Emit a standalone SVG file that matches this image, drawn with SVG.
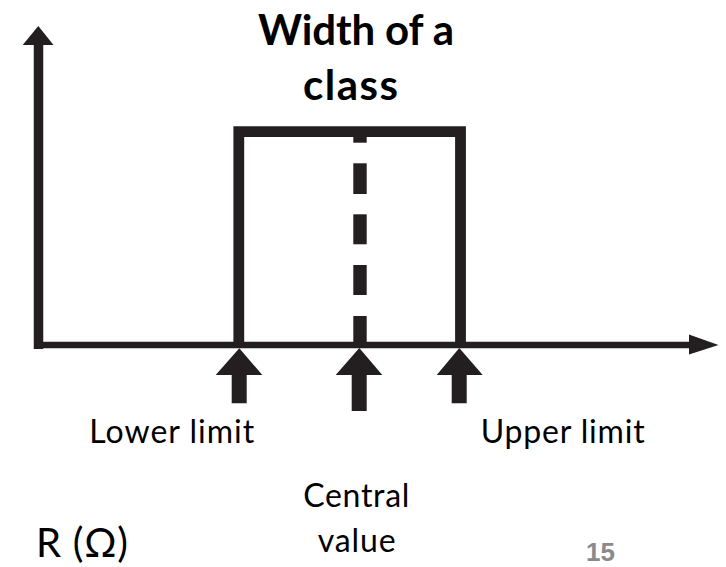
<svg xmlns="http://www.w3.org/2000/svg" width="726" height="567" viewBox="0 0 726 567">
  <style>
    .ink { fill: #231f20; }
    .stroke { fill: none; stroke: #231f20; stroke-linejoin: miter; stroke-linecap: butt; }
    .lbl { font-family: Lato, "Open Sans", "DejaVu Sans", sans-serif; fill: #000; }
    .title { font-family: Lato, "Open Sans", "DejaVu Sans", sans-serif; font-weight: bold; fill: #000; text-anchor: middle; }
    .pg { font-family: "Liberation Sans", Arial, sans-serif; font-weight: bold; fill: #8a8a8a; }
  </style>
  <rect width="726" height="567" fill="#fff"/>

  <g id="connectors">
    <line class="stroke" x1="38.5" y1="349" x2="38.5" y2="44" stroke-width="9.5"/>
    <polygon class="ink" points="22.7,45 38.3,26 53.5,45"/>
    <line class="stroke" x1="34" y1="345" x2="692" y2="345" stroke-width="6.6"/>
    <polygon class="ink" points="689,334.5 718.5,345 689,354.5"/>
    <path class="ink" d="M239.3,348.3 L262.3,375 L246.7,375 L246.7,403.3 L231.7,403.3 L231.7,375 L215.7,375 Z"/>
    <path class="ink" d="M359.3,348 L382.3,375 L366.7,375 L366.7,411 L351.7,411 L351.7,375 L335.7,375 Z"/>
    <path class="ink" d="M459.3,348 L482.7,375 L466.7,375 L466.7,403.3 L451.7,403.3 L451.7,375 L436.7,375 Z"/>
  </g>

  <g id="class-box">
    <polyline class="stroke" points="238.8,345 238.8,131.7 460.5,131.7 460.5,345" stroke-width="10.8"/>
  </g>

  <g id="central-line">
    <rect class="ink" x="353.3" y="131" width="13.4" height="11.7"/>
    <rect class="ink" x="353.3" y="163.3" width="13.4" height="30.7"/>
    <rect class="ink" x="353.3" y="214.3" width="13.4" height="30"/>
    <rect class="ink" x="353.3" y="265" width="13.4" height="30"/>
    <rect class="ink" x="353.3" y="316" width="13.4" height="29"/>
  </g>

  <g id="title">
    <text class="title" x="356" y="44.5" font-size="42" textLength="196">Width of a</text>
    <text class="title" x="350.5" y="100" font-size="42" textLength="95">class</text>
  </g>

  <g id="lower-limit">
    <text class="lbl" x="89.3" y="442.7" font-size="32" textLength="165">Lower limit</text>
  </g>
  <g id="upper-limit">
    <text class="lbl" x="480.7" y="442.7" font-size="32" textLength="164">Upper limit</text>
  </g>
  <g id="central-value">
    <text class="lbl" x="303.3" y="506.7" font-size="32" textLength="106">Central</text>
    <text class="lbl" x="317.7" y="551.7" font-size="32" textLength="78">value</text>
  </g>
  <g id="axis-label">
    <text class="lbl" x="36" y="557" font-size="40" textLength="92">R (Ω)</text>
  </g>
  <g id="page-number">
    <text class="pg" x="586" y="561" font-size="26">15</text>
  </g>
</svg>
